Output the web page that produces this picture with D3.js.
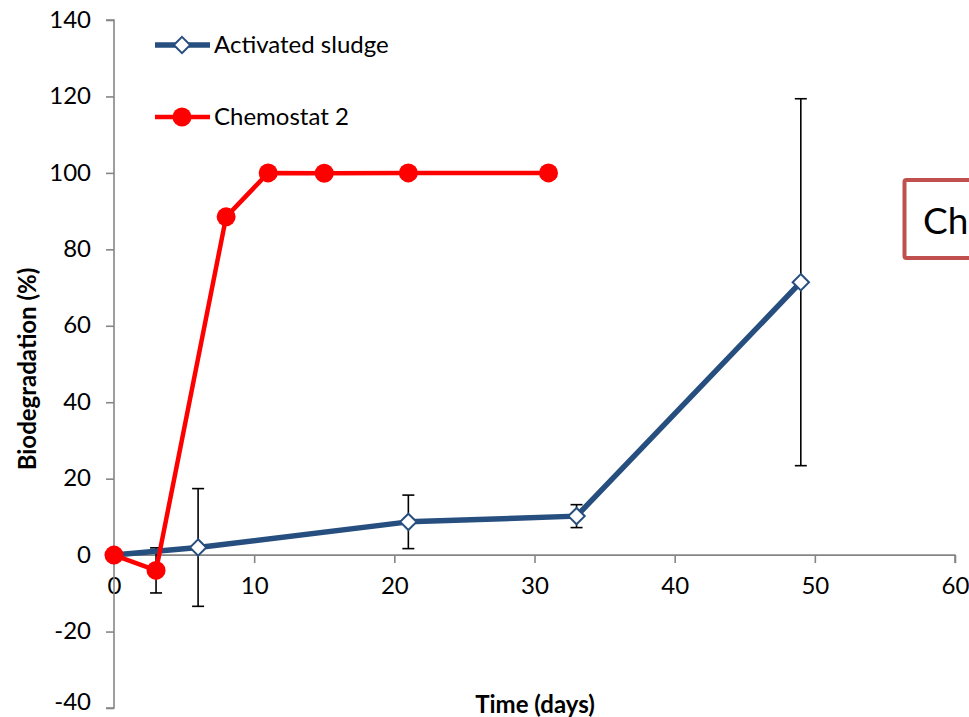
<!DOCTYPE html>
<html><head><meta charset="utf-8">
<script src="https://cdn.jsdelivr.net/npm/d3@7"></script>
<style>body{margin:0;background:#fff;} svg{display:block;font-family:Lato,"Open Sans",sans-serif;}</style>
</head><body>
<script>
const xTicks = [0,10,20,30,40,50,60];
const yTicks = [-40,-20,0,20,40,60,80,100,120,140];
const sludgeX = [0,6,21,33,49];
const sludgeY = [0,2.0,8.7,10.2,71.4];
const sludgeErr = [0,15.4,7.0,3.0,48.0];
const chemoX = [0,3,8,11,15,21,31];
const chemoY = [0,-4.0,88.5,100,99.9,100,100];
const chemoErr = [0,5.9,0,0,0,0,0];
const seriesNames = ["Activated sludge","Chemostat 2"];
const boxText = "Ch";

const W=969,H=717;
const svg=d3.select("body").append("svg").attr("width",W).attr("height",H);
const x=d3.scaleLinear().domain([0,60]).range([114,955]);
const y=d3.scaleLinear().domain([-40,140]).range([708,20]);
const axisColor="#868686";
const fmt=d=>String(d);

const gx=svg.append("g").attr("transform",`translate(0,${y(0)})`)
  .call(d3.axisBottom(x).tickValues(xTicks).tickSize(8).tickPadding(14).tickFormat(fmt));
const gy=svg.append("g").attr("transform",`translate(${x(0)},0)`)
  .call(d3.axisLeft(y).tickValues(yTicks).tickSize(8).tickPadding(15).tickFormat(fmt));
[gx,gy].forEach(g=>{
  g.select(".domain").attr("stroke",axisColor).attr("stroke-width",1.6);
  g.selectAll(".tick line").attr("stroke",axisColor).attr("stroke-width",1.6);
  g.selectAll(".tick text").attr("fill","#000").style("font-size","24px").style("font-family","Lato, sans-serif");
});
gy.selectAll(".tick text").attr("dy",d=>d===-40?"0.05em":"0.3em");
gx.select(".domain").attr("d",`M${x(0)},8V0H${x(60)}V8`);
gy.select(".domain").attr("d",`M-8,${y(140)}H0V${y(-40)}H-8`);

svg.append("text").attr("x",535).attr("y",713).attr("text-anchor","middle")
  .style("font-size","24px").style("font-weight","bold").text("Time (days)");
svg.append("text").attr("transform",`translate(36,${369}) rotate(-90)`).attr("text-anchor","middle")
  .style("font-size","24px").style("font-weight","bold").text("Biodegradation (%)");

function errBars(xs,ys,es){
  const g=svg.append("g");
  xs.forEach((xv,i)=>{
    const e=es[i]; if(!e) return;
    const px=x(xv), t=y(ys[i]+e), b=y(ys[i]-e);
    g.append("line").attr("x1",px).attr("x2",px).attr("y1",t).attr("y2",b).attr("stroke","#000").attr("stroke-width",1.6);
    [t,b].forEach(v=>g.append("line").attr("x1",px-6).attr("x2",px+6).attr("y1",v).attr("y2",v).attr("stroke","#000").attr("stroke-width",1.6));
  });
}
errBars(chemoX,chemoY,chemoErr);
errBars(sludgeX,sludgeY,sludgeErr);

const line=d3.line().x(d=>x(d[0])).y(d=>y(d[1]));
const sl=sludgeX.map((v,i)=>[v,sludgeY[i]]);
const ch=chemoX.map((v,i)=>[v,chemoY[i]]);
const blue="#264e7e", red="#ff0000";

svg.append("path").datum(sl).attr("d",line).attr("fill","none").attr("stroke",blue).attr("stroke-width",5.5).attr("stroke-linejoin","round");
const diamond=d3.symbol().type(d3.symbolDiamond2).size(170);
svg.selectAll(".dm").data(sl).join("path").attr("d",diamond)
  .attr("transform",d=>`translate(${x(d[0])},${y(d[1])})`)
  .attr("fill","#fff").attr("stroke",blue).attr("stroke-width",2);

svg.append("path").datum(ch).attr("d",line).attr("fill","none").attr("stroke",red).attr("stroke-width",4.5).attr("stroke-linejoin","round");
svg.selectAll(".cm").data(ch).join("circle").attr("cx",d=>x(d[0])).attr("cy",d=>y(d[1])).attr("r",9.5).attr("fill",red);

const lg=svg.append("g");
[[45,blue,5.5,"d"],[117,red,4.5,"c"]].forEach((it,i)=>{
  const [ly,c,w,m]=it;
  lg.append("line").attr("x1",155).attr("x2",210).attr("y1",ly).attr("y2",ly).attr("stroke",c).attr("stroke-width",w);
  if(m==="d") lg.append("path").attr("d",diamond).attr("transform",`translate(182,${ly})`).attr("fill","#fff").attr("stroke",c).attr("stroke-width",2);
  else lg.append("circle").attr("cx",182).attr("cy",ly).attr("r",9.5).attr("fill",c);
  lg.append("text").attr("x",214).attr("y",ly+8).style("font-size","24px").text(seriesNames[i]);
});

svg.append("rect").attr("x",904.5).attr("y",180).attr("width",200).attr("height",78).attr("rx",2)
  .attr("fill","#fff").attr("stroke","#c0504d").attr("stroke-width",4);
svg.append("text").attr("x",923).attr("y",234).style("font-size","37px").text(boxText);
</script>
</body></html>
